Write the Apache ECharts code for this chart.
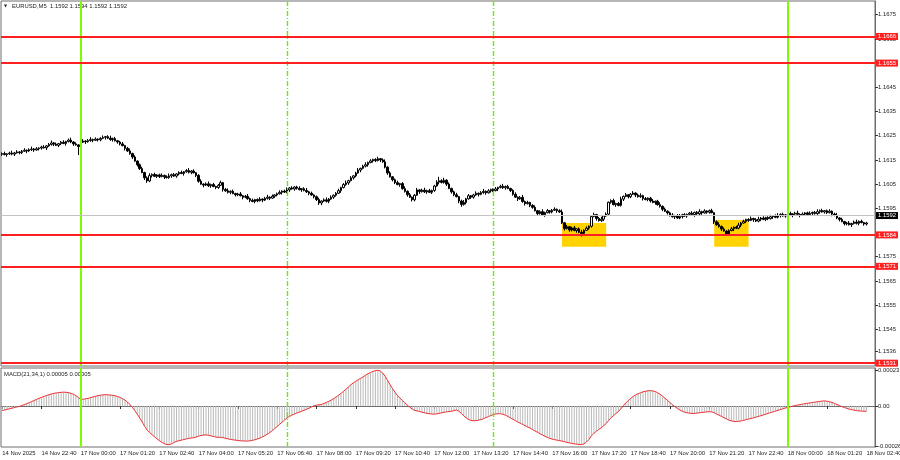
<!DOCTYPE html>
<html><head><meta charset="utf-8">
<script src="https://cdn.jsdelivr.net/npm/echarts@6/dist/echarts.min.js"></script>
<style>html,body{margin:0;padding:0;background:#fff}#c{width:900px;height:460px}</style>
</head><body><div id="c"></div>
<script>
// ---------- DATA ----------
const symbolName = 'EURUSD,M5';
const lastBar = [1.1592, 1.1594, 1.1592, 1.1592];
const macdName = 'MACD(21,34,1)';
const macdLast = ['0.00005', '0.00005'];

const tickLabels = ['14 Nov 2025','14 Nov 22:40','17 Nov 00:00','17 Nov 01:20','17 Nov 02:40','17 Nov 04:00','17 Nov 05:20','17 Nov 06:40','17 Nov 08:00','17 Nov 09:20','17 Nov 10:40','17 Nov 12:00','17 Nov 13:20','17 Nov 14:40','17 Nov 16:00','17 Nov 17:20','17 Nov 18:40','17 Nov 20:00','17 Nov 21:20','17 Nov 22:40','18 Nov 00:00','18 Nov 01:20','18 Nov 02:40'];
const priceTicks = [1.1675,1.1665,1.1645,1.1635,1.1625,1.1615,1.1605,1.1595,1.1575,1.1565,1.1555,1.1545,1.1536];
const macdTicks = [0.00023, 0, -0.00026];
const levels = [1.1666, 1.1655, 1.1584, 1.1571, 1.1531];
const bidPrice = 1.1592;
const dayLines = [32, 320];       // bar index of 17 Nov 00:00 and 18 Nov 00:00
const sessionLines = [116, 200];  // bar index of 07:00 and 14:00
const zones = [[228, 246, 1.15791, 1.15889], [290, 304, 1.15791, 1.15902]];

const opens = [
1.16173,1.16176,1.16172,1.16175,1.16178,1.16174,1.16179,1.16183,1.16180,1.16186,1.16190,1.16187,1.16192,1.16195,1.16191,1.16196,
1.16199,1.16203,1.16200,1.16208,1.16214,1.16220,1.16215,1.16210,1.16217,1.16223,1.16218,1.16226,1.16232,1.16224,1.16216,1.16212,
1.16205,1.16223,1.16228,1.16225,1.16230,1.16234,1.16231,1.16236,1.16233,1.16239,1.16243,1.16246,1.16240,1.16234,1.16238,1.16229,
1.16224,1.16216,1.16209,1.16198,1.16187,1.16176,1.16162,1.16145,1.16130,1.16114,1.16098,1.16076,1.16063,1.16085,1.16090,1.16082,
1.16088,1.16081,1.16086,1.16080,1.16077,1.16084,1.16089,1.16083,1.16092,1.16098,1.16094,1.16101,1.16106,1.16099,1.16104,1.16097,
1.16086,1.16062,1.16050,1.16046,1.16051,1.16043,1.16048,1.16040,1.16036,1.16045,1.16056,1.16028,1.16022,1.16016,1.16020,1.16011,
1.16006,1.16009,1.16002,1.15996,1.15999,1.15990,1.15983,1.15978,1.15986,1.15981,1.15988,1.15984,1.15991,1.15996,1.15992,1.16000,
1.16005,1.16010,1.16016,1.16021,1.16017,1.16026,1.16034,1.16030,1.16038,1.16033,1.16027,1.16031,1.16024,1.16018,1.16012,1.16005,
1.15998,1.15986,1.15972,1.15980,1.15985,1.15979,1.15988,1.15996,1.16004,1.16012,1.16023,1.16036,1.16048,1.16055,1.16064,1.16076,
1.16084,1.16096,1.16108,1.16115,1.16124,1.16130,1.16139,1.16146,1.16152,1.16147,1.16155,1.16150,1.16142,1.16120,1.16096,1.16080,
1.16068,1.16056,1.16048,1.16052,1.16031,1.16020,1.16006,1.15996,1.15985,1.16004,1.16026,1.16019,1.16025,1.16018,1.16023,1.16016,
1.16024,1.16042,1.16058,1.16064,1.16057,1.16066,1.16050,1.16032,1.16018,1.16006,1.15998,1.15980,1.15966,1.15974,1.15989,1.16002,
1.15996,1.16005,1.16012,1.16008,1.16015,1.16020,1.16014,1.16022,1.16028,1.16023,1.16030,1.16036,1.16041,1.16035,1.16040,1.16032,
1.16024,1.16008,1.15996,1.15989,1.15995,1.15978,1.15969,1.15974,1.15962,1.15954,1.15940,1.15928,1.15936,1.15923,1.15932,1.15940,
1.15935,1.15942,1.15946,1.15940,1.15935,1.15890,1.15866,1.15874,1.15860,1.15869,1.15858,1.15865,1.15851,1.15846,1.15859,1.15868,
1.15876,1.15916,1.15924,1.15908,1.15899,1.15905,1.15918,1.15926,1.15975,1.15982,1.15965,1.15970,1.15962,1.15988,1.15999,1.16006,
1.15998,1.16008,1.16013,1.16005,1.15998,1.16002,1.15990,1.15986,1.15992,1.15980,1.15974,1.15979,1.15965,1.15958,1.15946,1.15938,
1.15931,1.15922,1.15915,1.15920,1.15910,1.15916,1.15923,1.15918,1.15925,1.15930,1.15924,1.15933,1.15927,1.15936,1.15931,1.15939,
1.15934,1.15940,1.15932,1.15894,1.15882,1.15875,1.15864,1.15856,1.15844,1.15858,1.15865,1.15872,1.15868,1.15880,1.15889,1.15896,
1.15904,1.15900,1.15908,1.15903,1.15897,1.15905,1.15910,1.15904,1.15912,1.15907,1.15915,1.15919,1.15913,1.15920,1.15925,1.15918,
1.15923,1.15928,1.15922,1.15927,1.15930,1.15925,1.15921,1.15926,1.15931,1.15924,1.15929,1.15933,1.15928,1.15936,1.15941,1.15935,
1.15940,1.15932,1.15938,1.15926,1.15921,1.15910,1.15904,1.15895,1.15886,1.15889,1.15882,1.15887,1.15893,1.15888,1.15896,1.15891,1.15885];

const closes = [
1.16176,1.16172,1.16175,1.16178,1.16174,1.16179,1.16183,1.16180,1.16186,1.16190,1.16187,1.16192,1.16195,1.16191,1.16196,1.16199,
1.16203,1.16200,1.16208,1.16214,1.16220,1.16215,1.16210,1.16217,1.16223,1.16218,1.16226,1.16232,1.16224,1.16216,1.16212,1.16205,
1.16223,1.16228,1.16225,1.16230,1.16234,1.16231,1.16236,1.16233,1.16239,1.16243,1.16246,1.16240,1.16234,1.16238,1.16229,1.16224,
1.16216,1.16209,1.16198,1.16187,1.16176,1.16162,1.16145,1.16130,1.16114,1.16098,1.16076,1.16063,1.16085,1.16090,1.16082,1.16088,
1.16081,1.16086,1.16080,1.16077,1.16084,1.16089,1.16083,1.16092,1.16098,1.16094,1.16101,1.16106,1.16099,1.16104,1.16097,1.16086,
1.16062,1.16050,1.16046,1.16051,1.16043,1.16048,1.16040,1.16036,1.16045,1.16056,1.16028,1.16022,1.16016,1.16020,1.16011,1.16006,
1.16009,1.16002,1.15996,1.15999,1.15990,1.15983,1.15978,1.15986,1.15981,1.15988,1.15984,1.15991,1.15996,1.15992,1.16000,1.16005,
1.16010,1.16016,1.16021,1.16017,1.16026,1.16034,1.16030,1.16038,1.16033,1.16027,1.16031,1.16024,1.16018,1.16012,1.16005,1.15998,
1.15986,1.15972,1.15980,1.15985,1.15979,1.15988,1.15996,1.16004,1.16012,1.16023,1.16036,1.16048,1.16055,1.16064,1.16076,1.16084,
1.16096,1.16108,1.16115,1.16124,1.16130,1.16139,1.16146,1.16152,1.16147,1.16155,1.16150,1.16142,1.16120,1.16096,1.16080,1.16068,
1.16056,1.16048,1.16052,1.16031,1.16020,1.16006,1.15996,1.15985,1.16004,1.16026,1.16019,1.16025,1.16018,1.16023,1.16016,1.16024,
1.16042,1.16058,1.16064,1.16057,1.16066,1.16050,1.16032,1.16018,1.16006,1.15998,1.15980,1.15966,1.15974,1.15989,1.16002,1.15996,
1.16005,1.16012,1.16008,1.16015,1.16020,1.16014,1.16022,1.16028,1.16023,1.16030,1.16036,1.16041,1.16035,1.16040,1.16032,1.16024,
1.16008,1.15996,1.15989,1.15995,1.15978,1.15969,1.15974,1.15962,1.15954,1.15940,1.15928,1.15936,1.15923,1.15932,1.15940,1.15935,
1.15942,1.15946,1.15940,1.15935,1.15890,1.15866,1.15874,1.15860,1.15869,1.15858,1.15865,1.15851,1.15846,1.15859,1.15868,1.15876,
1.15916,1.15924,1.15908,1.15899,1.15905,1.15918,1.15926,1.15975,1.15982,1.15965,1.15970,1.15962,1.15988,1.15999,1.16006,1.15998,
1.16008,1.16013,1.16005,1.15998,1.16002,1.15990,1.15986,1.15992,1.15980,1.15974,1.15979,1.15965,1.15958,1.15946,1.15938,1.15931,
1.15922,1.15915,1.15920,1.15910,1.15916,1.15923,1.15918,1.15925,1.15930,1.15924,1.15933,1.15927,1.15936,1.15931,1.15939,1.15934,
1.15940,1.15932,1.15894,1.15882,1.15875,1.15864,1.15856,1.15844,1.15858,1.15865,1.15872,1.15868,1.15880,1.15889,1.15896,1.15904,
1.15900,1.15908,1.15903,1.15897,1.15905,1.15910,1.15904,1.15912,1.15907,1.15915,1.15919,1.15913,1.15920,1.15925,1.15918,1.15923,
1.15928,1.15922,1.15927,1.15930,1.15925,1.15921,1.15926,1.15931,1.15924,1.15929,1.15933,1.15928,1.15936,1.15941,1.15935,1.15940,
1.15932,1.15938,1.15926,1.15921,1.15910,1.15904,1.15895,1.15886,1.15889,1.15882,1.15887,1.15893,1.15888,1.15896,1.15891,1.15885,1.15889];

const highs = [
1.16181,1.16184,1.16178,1.16184,1.16188,1.16183,1.16190,1.16186,1.16191,1.16198,1.16193,1.16198,1.16205,1.16199,1.16203,1.16202,
1.16208,1.16211,1.16211,1.16220,1.16230,1.16224,1.16222,1.16220,1.16228,1.16231,1.16229,1.16238,1.16242,1.16228,1.16223,1.16215,
1.16228,1.16236,1.16231,1.16236,1.16244,1.16238,1.16243,1.16239,1.16244,1.16251,1.16249,1.16252,1.16250,1.16242,1.16245,1.16232,
1.16229,1.16224,1.16212,1.16204,1.16197,1.16180,1.16169,1.16148,1.16135,1.16122,1.16101,1.16082,1.16095,1.16094,1.16097,1.16091,
1.16093,1.16094,1.16089,1.16086,1.16094,1.16093,1.16096,1.16095,1.16103,1.16106,1.16104,1.16112,1.16116,1.16108,1.16111,1.16100,
1.16091,1.16070,1.16053,1.16057,1.16061,1.16052,1.16055,1.16043,1.16050,1.16064,1.16059,1.16034,1.16032,1.16024,1.16027,1.16014,
1.16014,1.16017,1.16005,1.16005,1.16009,1.15994,1.15990,1.15989,1.15991,1.15996,1.15991,1.15997,1.16006,1.16000,1.16007,1.16008,
1.16015,1.16024,1.16024,1.16027,1.16036,1.16038,1.16041,1.16041,1.16043,1.16041,1.16034,1.16037,1.16034,1.16022,1.16019,1.16008,
1.16003,1.15994,1.15983,1.15991,1.15995,1.15992,1.16003,1.16007,1.16017,1.16031,1.16039,1.16054,1.16065,1.16068,1.16083,1.16087,
1.16101,1.16116,1.16118,1.16130,1.16140,1.16143,1.16153,1.16155,1.16157,1.16163,1.16158,1.16156,1.16152,1.16124,1.16103,1.16083,
1.16073,1.16064,1.16055,1.16058,1.16041,1.16024,1.16013,1.15999,1.16009,1.16034,1.16029,1.16031,1.16035,1.16027,1.16030,1.16027,
1.16047,1.16066,1.16080,1.16070,1.16076,1.16070,1.16057,1.16035,1.16023,1.16014,1.16001,1.15986,1.15984,1.15993,1.16009,1.16005,
1.16010,1.16020,1.16015,1.16021,1.16030,1.16024,1.16029,1.16031,1.16033,1.16038,1.16039,1.16047,1.16051,1.16044,1.16047,1.16035,
1.16029,1.16016,1.15999,1.16001,1.16005,1.15982,1.15981,1.15977,1.15967,1.15962,1.15943,1.15942,1.15946,1.15936,1.15947,1.15943,
1.15947,1.15954,1.15949,1.15946,1.15945,1.15894,1.15881,1.15877,1.15874,1.15877,1.15868,1.15871,1.15861,1.15863,1.15875,1.15879,
1.15921,1.15932,1.15927,1.15914,1.15915,1.15922,1.15933,1.15978,1.15987,1.15990,1.15973,1.15976,1.15998,1.16003,1.16013,1.16009,
1.16013,1.16021,1.16016,1.16011,1.16012,1.16006,1.15997,1.15995,1.15997,1.15988,1.15982,1.15985,1.15975,1.15962,1.15953,1.15941,
1.15936,1.15930,1.15923,1.15926,1.15926,1.15927,1.15930,1.15928,1.15935,1.15938,1.15936,1.15939,1.15946,1.15940,1.15946,1.15942,
1.15945,1.15948,1.15935,1.15900,1.15892,1.15879,1.15871,1.15859,1.15863,1.15873,1.15875,1.15878,1.15890,1.15893,1.15903,1.15907,
1.15909,1.15916,1.15911,1.15909,1.15915,1.15914,1.15917,1.15915,1.15917,1.15923,1.15922,1.15925,1.15930,1.15929,1.15932,1.15926,
1.15933,1.15936,1.15930,1.15936,1.15940,1.15929,1.15933,1.15934,1.15936,1.15937,1.15936,1.15939,1.15946,1.15945,1.15948,1.15943,
1.15945,1.15946,1.15941,1.15932,1.15931,1.15914,1.15911,1.15898,1.15894,1.15897,1.15890,1.15899,1.15903,1.15900,1.15903,1.15894,1.15894];

const lows = [
1.16167,1.16169,1.16163,1.16171,1.16169,1.16166,1.16176,1.16173,1.16174,1.16183,1.16178,1.16183,1.16187,1.16183,1.16188,1.16189,
1.16193,1.16197,1.16191,1.16204,1.16209,1.16207,1.16207,1.16203,1.16211,1.16215,1.16209,1.16222,1.16219,1.16208,1.16209,1.16170,
1.16199,1.16220,1.16216,1.16221,1.16225,1.16223,1.16228,1.16226,1.16227,1.16236,1.16234,1.16236,1.16229,1.16226,1.16226,1.16217,
1.16210,1.16206,1.16189,1.16183,1.16171,1.16154,1.16142,1.16123,1.16108,1.16095,1.16067,1.16055,1.16058,1.16077,1.16079,1.16075,
1.16075,1.16078,1.16071,1.16073,1.16072,1.16076,1.16080,1.16076,1.16086,1.16091,1.16085,1.16097,1.16094,1.16091,1.16094,1.16079,
1.16056,1.16047,1.16037,1.16042,1.16038,1.16035,1.16037,1.16029,1.16030,1.16042,1.16019,1.16018,1.16011,1.16008,1.16008,1.15999,
1.16000,1.15999,1.15987,1.15992,1.15985,1.15975,1.15975,1.15971,1.15975,1.15978,1.15975,1.15980,1.15986,1.15984,1.15989,1.15993,
1.15999,1.16007,1.16007,1.16013,1.16012,1.16018,1.16027,1.16023,1.16027,1.16024,1.16018,1.16020,1.16013,1.16004,1.16002,1.15991,
1.15980,1.15964,1.15963,1.15976,1.15974,1.15971,1.15985,1.15989,1.15998,1.16009,1.16014,1.16032,1.16043,1.16047,1.16061,1.16069,
1.16078,1.16093,1.16099,1.16111,1.16119,1.16122,1.16136,1.16139,1.16141,1.16144,1.16141,1.16138,1.16115,1.16088,1.16077,1.16061,
1.16050,1.16045,1.16039,1.16027,1.16015,1.15998,1.15993,1.15978,1.15979,1.16001,1.16010,1.16015,1.16013,1.16010,1.16013,1.16009,
1.16018,1.16039,1.16049,1.16053,1.16052,1.16042,1.16029,1.16011,1.16000,1.15995,1.15971,1.15956,1.15961,1.15966,1.15986,1.15989,
1.15990,1.16002,1.15999,1.16004,1.16010,1.16006,1.16011,1.16015,1.16017,1.16020,1.16021,1.16032,1.16030,1.16027,1.16029,1.16017,
1.16002,1.15993,1.15980,1.15985,1.15973,1.15961,1.15966,1.15955,1.15948,1.15937,1.15919,1.15924,1.15918,1.15915,1.15929,1.15928,
1.15929,1.15939,1.15931,1.15931,1.15885,1.15858,1.15863,1.15853,1.15854,1.15855,1.15849,1.15847,1.15833,1.15838,1.15856,1.15861,
1.15870,1.15913,1.15899,1.15895,1.15894,1.15897,1.15915,1.15919,1.15969,1.15962,1.15956,1.15958,1.15957,1.15980,1.15996,1.15991,
1.15992,1.16005,1.15996,1.15994,1.15993,1.15982,1.15983,1.15979,1.15974,1.15971,1.15965,1.15961,1.15953,1.15938,1.15935,1.15924,
1.15916,1.15912,1.15906,1.15906,1.15905,1.15908,1.15915,1.15911,1.15919,1.15921,1.15915,1.15923,1.15922,1.15923,1.15928,1.15927,
1.15928,1.15929,1.15885,1.15878,1.15870,1.15856,1.15853,1.15837,1.15838,1.15855,1.15856,1.15864,1.15863,1.15872,1.15886,1.15889,
1.15894,1.15897,1.15894,1.15893,1.15892,1.15897,1.15901,1.15897,1.15901,1.15904,1.15906,1.15909,1.15908,1.15912,1.15915,1.15911,
1.15917,1.15919,1.15913,1.15923,1.15920,1.15913,1.15918,1.15919,1.15918,1.15921,1.15920,1.15924,1.15923,1.15928,1.15932,1.15928,
1.15926,1.15929,1.15917,1.15917,1.15905,1.15896,1.15892,1.15879,1.15880,1.15879,1.15873,1.15883,1.15883,1.15880,1.15888,1.15878,1.15879];

const macd = [
-3.0e-5,-2.6e-5,-2.2e-5,-1.8e-5,-1.4e-5,-1.0e-5,-0.6e-5,-0.2e-5,0.3e-5,0.9e-5,1.5e-5,2.2e-5,2.9e-5,3.6e-5,4.3e-5,5.0e-5,
5.6e-5,6.2e-5,6.8e-5,7.3e-5,7.8e-5,8.2e-5,8.5e-5,8.7e-5,8.9e-5,9.0e-5,8.9e-5,8.7e-5,8.3e-5,7.6e-5,6.8e-5,5.6e-5,
4.3e-5,4.4e-5,4.7e-5,5.0e-5,5.4e-5,5.9e-5,6.3e-5,6.7e-5,7.0e-5,7.2e-5,7.4e-5,7.3e-5,7.1e-5,6.9e-5,6.6e-5,6.2e-5,
5.6e-5,4.8e-5,3.8e-5,2.6e-5,1.0e-5,-0.9e-5,-3.0e-5,-5.3e-5,-7.8e-5,-10.4e-5,-13.2e-5,-15.6e-5,-17.2e-5,-18.6e-5,-20.0e-5,-21.3e-5,
-22.5e-5,-23.6e-5,-24.5e-5,-25.0e-5,-25.1e-5,-24.6e-5,-23.6e-5,-23.0e-5,-22.6e-5,-22.2e-5,-21.8e-5,-21.4e-5,-21.0e-5,-20.8e-5,-20.6e-5,-20.2e-5,
-19.6e-5,-19.2e-5,-18.9e-5,-18.8e-5,-19.0e-5,-19.4e-5,-19.8e-5,-20.2e-5,-20.4e-5,-20.3e-5,-20.6e-5,-21.0e-5,-21.4e-5,-21.7e-5,-22.0e-5,-22.2e-5,
-22.4e-5,-22.6e-5,-22.7e-5,-22.8e-5,-22.8e-5,-22.6e-5,-22.3e-5,-21.9e-5,-21.4e-5,-20.8e-5,-20.1e-5,-19.3e-5,-18.3e-5,-17.2e-5,-16.0e-5,-14.7e-5,
-13.3e-5,-11.9e-5,-10.5e-5,-9.1e-5,-7.8e-5,-6.8e-5,-5.9e-5,-5.2e-5,-4.6e-5,-4.0e-5,-3.4e-5,-2.8e-5,-2.1e-5,-1.4e-5,-0.6e-5,0.1e-5,
0.6e-5,0.8e-5,1.0e-5,1.6e-5,2.3e-5,3.0e-5,3.8e-5,4.8e-5,5.9e-5,7.0e-5,8.2e-5,9.5e-5,10.9e-5,12.3e-5,13.8e-5,15.0e-5,
16.1e-5,17.1e-5,18.0e-5,19.0e-5,20.0e-5,21.0e-5,21.8e-5,22.5e-5,23.0e-5,23.2e-5,22.8e-5,21.4e-5,19.2e-5,16.6e-5,13.8e-5,11.2e-5,
8.9e-5,6.8e-5,5.1e-5,3.6e-5,2.1e-5,0.6e-5,-0.8e-5,-2.0e-5,-2.8e-5,-3.2e-5,-3.6e-5,-4.0e-5,-4.4e-5,-4.8e-5,-5.0e-5,-5.2e-5,
-5.3e-5,-5.1e-5,-4.8e-5,-4.4e-5,-4.1e-5,-3.8e-5,-3.6e-5,-3.4e-5,-3.0e-5,-2.6e-5,-3.4e-5,-4.8e-5,-6.4e-5,-7.8e-5,-8.8e-5,-9.4e-5,
-9.6e-5,-9.5e-5,-9.2e-5,-8.8e-5,-8.3e-5,-7.6e-5,-6.9e-5,-6.2e-5,-5.6e-5,-5.2e-5,-5.0e-5,-5.0e-5,-5.4e-5,-6.0e-5,-6.8e-5,-7.7e-5,
-8.6e-5,-9.5e-5,-10.4e-5,-11.2e-5,-12.0e-5,-12.8e-5,-13.6e-5,-14.4e-5,-15.3e-5,-16.2e-5,-17.1e-5,-18.0e-5,-18.8e-5,-19.6e-5,-20.4e-5,-21.0e-5,
-21.5e-5,-21.9e-5,-22.2e-5,-22.5e-5,-22.8e-5,-23.2e-5,-23.6e-5,-24.0e-5,-24.3e-5,-24.6e-5,-24.8e-5,-25.0e-5,-25.1e-5,-24.6e-5,-23.4e-5,-21.8e-5,
-19.4e-5,-17.8e-5,-16.4e-5,-15.2e-5,-14.2e-5,-12.8e-5,-11.4e-5,-9.4e-5,-7.6e-5,-6.2e-5,-4.8e-5,-3.6e-5,-1.8e-5,0.2e-5,2.0e-5,3.6e-5,
5.0e-5,6.2e-5,7.2e-5,8.0e-5,8.6e-5,9.2e-5,9.6e-5,9.9e-5,10.0e-5,9.8e-5,9.4e-5,8.6e-5,7.6e-5,6.4e-5,5.0e-5,3.6e-5,
2.2e-5,0.8e-5,-0.4e-5,-1.6e-5,-2.6e-5,-3.4e-5,-4.0e-5,-4.4e-5,-4.7e-5,-4.8e-5,-4.8e-5,-4.6e-5,-4.4e-5,-4.2e-5,-4.0e-5,-3.8e-5,
-3.7e-5,-3.8e-5,-4.4e-5,-5.2e-5,-6.0e-5,-6.8e-5,-7.6e-5,-8.4e-5,-9.2e-5,-9.7e-5,-10.0e-5,-10.1e-5,-10.0e-5,-9.7e-5,-9.3e-5,-8.9e-5,
-8.5e-5,-8.1e-5,-7.7e-5,-7.2e-5,-6.8e-5,-6.3e-5,-5.8e-5,-5.3e-5,-4.8e-5,-4.3e-5,-3.8e-5,-3.3e-5,-2.8e-5,-2.3e-5,-1.8e-5,-1.3e-5,
-0.9e-5,-0.5e-5,-0.1e-5,0.3e-5,0.6e-5,0.9e-5,1.2e-5,1.5e-5,1.8e-5,2.0e-5,2.3e-5,2.5e-5,2.8e-5,3.0e-5,3.2e-5,3.3e-5,
3.1e-5,2.8e-5,2.3e-5,1.7e-5,1.0e-5,0.3e-5,-0.4e-5,-1.0e-5,-1.5e-5,-2.0e-5,-2.4e-5,-2.7e-5,-3.0e-5,-3.2e-5,-3.3e-5,-3.4e-5,-3.4e-5];

// ---------- BUILD ----------
const SLOTS = 356;          // bars + empty right margin (chart shift)
const TICK_EVERY = 16;
const cats = [];
for (let i = 0; i < SLOTS; i++) {
  let day, m;
  if (i < 32) { day = '14 Nov'; m = 21 * 60 + 20 + i * 5; }
  else { const k = (i - 32) * 5; day = k < 1440 ? '17 Nov' : '18 Nov'; m = k % 1440; }
  cats.push(day + ' ' + String(Math.floor(m / 60)).padStart(2, '0') + ':' + String(m % 60).padStart(2, '0'));
}
const candleData = opens.map((o, i) => [o, closes[i], lows[i], highs[i]]);

const FONT = 'Liberation Sans';
const FS = 5.9;
const FRAME = '#6e6e6e';
const GREEN = '#7cfc00';
const RED = '#ff2020';

function vLines() {
  const out = [];
  dayLines.forEach(i => out.push({ xAxis: cats[i], lineStyle: { color: GREEN, width: 2, type: 'solid' }, label: { show: false } }));
  sessionLines.forEach(i => out.push({ xAxis: cats[i], lineStyle: { color: '#66ee00', width: 1.4, type: [5, 2, 1, 2] }, label: { show: false } }));
  return out;
}
function hLabel(bg) {
  return { show: true, position: 'end', distance: 1, formatter: p => Number(p.value).toFixed(4),
    backgroundColor: bg, color: '#fff', padding: [1, 2, 0, 2], fontSize: FS, fontFamily: FONT };
}

const chart = echarts.init(document.getElementById('c'), null, { renderer: 'canvas' });
chart.setOption({
  animation: false,
  backgroundColor: '#ffffff',
  textStyle: { fontFamily: FONT },
  grid: [
    { left: 1, top: 1, width: 874, height: 365, show: true, borderColor: FRAME, borderWidth: 1, backgroundColor: '#fff', outerBoundsMode: 'none' },
    { left: 1, top: 368, width: 874, height: 79, show: true, borderColor: FRAME, borderWidth: 1, backgroundColor: '#fff', outerBoundsMode: 'none' }
  ],
  xAxis: [
    { type: 'category', gridIndex: 0, data: cats, boundaryGap: true, show: false },
    { type: 'category', gridIndex: 1, data: cats, boundaryGap: true,
      axisLine: { show: true, lineStyle: { color: FRAME } },
      axisTick: { show: true, alignWithLabel: true, length: 3, interval: (i) => i % TICK_EVERY === 0 && i / TICK_EVERY < tickLabels.length, lineStyle: { color: '#333' } },
      axisLabel: { show: true, interval: (i) => i % TICK_EVERY === 0 && i / TICK_EVERY < tickLabels.length,
        formatter: (v, i) => tickLabels[i / TICK_EVERY] || '', align: 'left', margin: 3,
        fontSize: FS, color: '#222', fontFamily: FONT, showMinLabel: true, showMaxLabel: true },
      splitLine: { show: false } }
  ],
  yAxis: [
    { type: 'value', gridIndex: 0, position: 'right', min: 1.152983, max: 1.168066, scale: true,
      axisLine: { show: true, lineStyle: { color: FRAME } },
      axisTick: { show: true, length: 3, customValues: priceTicks, lineStyle: { color: '#333' } },
      axisLabel: { show: true, customValues: priceTicks, formatter: v => v.toFixed(4), margin: 3, fontSize: FS, color: '#222', fontFamily: FONT },
      splitLine: { show: false } },
    { type: 'value', gridIndex: 1, position: 'right', min: -0.0002665, max: 0.000247,
      axisLine: { show: true, lineStyle: { color: FRAME } },
      axisTick: { show: true, length: 3, customValues: macdTicks, lineStyle: { color: '#333' } },
      axisLabel: { show: true, customValues: macdTicks, formatter: v => (v === 0 ? '0.00' : v.toFixed(5)), margin: 3, fontSize: FS, color: '#222', fontFamily: FONT },
      splitLine: { show: false } }
  ],
  graphic: [
    { type: 'text', left: 4, top: 4, style: { text: '\u25BC', fontSize: 4, fill: '#222', fontFamily: 'DejaVu Sans' } },
    { type: 'text', left: 12, top: 3, style: { text: symbolName + '  ' + lastBar.map(v => v.toFixed(4)).join(' '), fontSize: FS, fill: '#222', fontFamily: FONT } },
    { type: 'text', left: 4, top: 371, style: { text: macdName + ' ' + macdLast.join(' '), fontSize: FS, fill: '#222', fontFamily: FONT } }
  ],
  series: [
    { type: 'line', xAxisIndex: 0, yAxisIndex: 0, data: [], z: 1, silent: true,
      markArea: { silent: true, z: 1,
        itemStyle: { color: '#ffd200', opacity: 1 },
        data: zones.map(zn => [{ xAxis: cats[zn[0]], yAxis: zn[3] }, { xAxis: cats[zn[1]], yAxis: zn[2] }]) } },
    { type: 'candlestick', name: 'EURUSD', xAxisIndex: 0, yAxisIndex: 0, data: candleData, z: 3,
      barWidth: 2,
      itemStyle: { color: '#ffffff', color0: '#000000', borderColor: '#000000', borderColor0: '#000000', borderWidth: 1 },
      markLine: { silent: true, symbol: ['none', 'none'], z: 5, animation: false, data: vLines() } },
    { type: 'line', name: 'levels', xAxisIndex: 0, yAxisIndex: 0, data: [], z: 6, silent: true,
      markLine: { silent: true, symbol: ['none', 'none'], z: 6, animation: false, precision: 4,
        data: [
          { yAxis: bidPrice, lineStyle: { color: '#c4c4c4', width: 1, type: 'solid' }, label: hLabel('#000') },
          ...levels.map(v => ({ yAxis: v, lineStyle: { color: RED, width: 2, type: 'solid' }, label: hLabel(RED) }))
        ] } },
    { type: 'bar', xAxisIndex: 1, yAxisIndex: 1, data: macd, barWidth: 1, itemStyle: { color: '#b9b9b9' }, z: 2, silent: true,
      markLine: { silent: true, symbol: ['none', 'none'], z: 5, animation: false, data: vLines() } },
    { type: 'line', xAxisIndex: 1, yAxisIndex: 1, data: macd, symbol: 'none', lineStyle: { color: '#ee3030', width: 1 }, z: 3, silent: true }
  ]
});
</script>
</body></html>
